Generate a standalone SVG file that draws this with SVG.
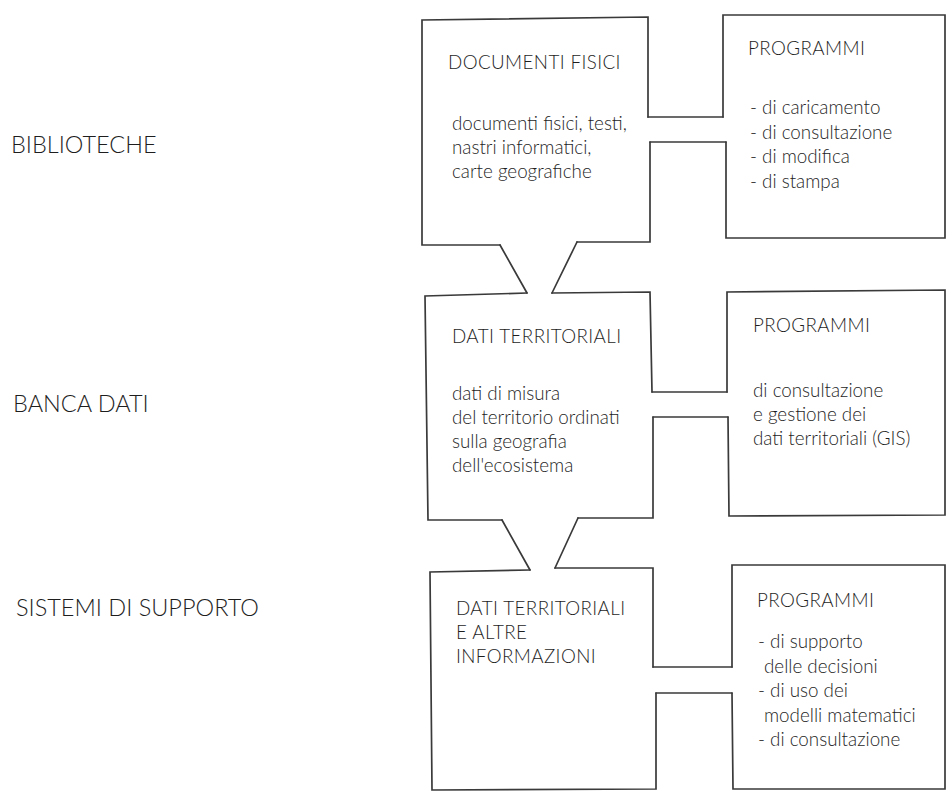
<svg xmlns="http://www.w3.org/2000/svg" width="947" height="792" viewBox="0 0 947 792">
<style>
  .bg { fill: #ffffff; }
  .ln { fill: none; stroke: #3a3a3a; stroke-width: 1.7; stroke-linecap: round; stroke-linejoin: miter; }
  .side { font-family: Lato, "Noto Sans", "Liberation Sans", sans-serif; font-size: 23.5px; font-weight: 300; fill: #1e1e1e; }
  .txt { font-family: Lato, "Noto Sans", "Liberation Sans", sans-serif; font-size: 18.8px; font-weight: 300; fill: #1e1e1e; }
  .cap { letter-spacing: 0.4px; }
</style>
<rect class="bg" x="0" y="0" width="947" height="792"/>

<g id="labels">
  <text class="side" x="11" y="153">BIBLIOTECHE</text>
  <text class="side" x="13" y="412">BANCA DATI</text>
  <text class="side" x="16" y="616">SISTEMI DI SUPPORTO</text>
</g>

<g id="connectors">
  <path class="ln" d="M648,117 L723,117"/>
  <path class="ln" d="M650,142 L726,142"/>
  <path class="ln" d="M652,392 L727,392"/>
  <path class="ln" d="M653,417 L728,417"/>
  <path class="ln" d="M653,667 L732,667"/>
  <path class="ln" d="M656,693 L732,693"/>
  <path class="ln" d="M500,245 L527,293"/>
  <path class="ln" d="M577,242 L552,293"/>
  <path class="ln" d="M502,520 L530,570"/>
  <path class="ln" d="M578,518 L555,568"/>
</g>

<g id="documenti-fisici">
  <path class="ln" d="M500,245 L422,245 L422,20 L648,17 L648,117"/>
  <path class="ln" d="M650,142 L650,242 L577,242"/>
  <text class="txt cap" x="448" y="69">DOCUMENTI FISICI</text>
  <text class="txt" x="452" y="130">documenti fisici, testi,</text>
  <text class="txt" x="452" y="154">nastri informatici,</text>
  <text class="txt" x="452" y="178">carte geografiche</text>
</g>

<g id="programmi-1">
  <path class="ln" d="M723,117 L723,15 L945,15 L945,238 L726,238 L726,142"/>
  <text class="txt cap" x="748" y="55">PROGRAMMI</text>
  <text class="txt" x="750" y="114">- di caricamento</text>
  <text class="txt" x="750" y="138.5">- di consultazione</text>
  <text class="txt" x="750" y="163">- di modifica</text>
  <text class="txt" x="750" y="187.5">- di stampa</text>
</g>

<g id="dati-territoriali">
  <path class="ln" d="M527,293 L425,296 L428,520 L502,520"/>
  <path class="ln" d="M552,293 L650,292 L652,392"/>
  <path class="ln" d="M653,417 L653,518 L578,518"/>
  <text class="txt cap" x="452" y="343">DATI TERRITORIALI</text>
  <text class="txt" x="452" y="400">dati di misura</text>
  <text class="txt" x="452" y="424">del territorio ordinati</text>
  <text class="txt" x="452" y="448">sulla geografia</text>
  <text class="txt" x="452" y="472">dell'ecosistema</text>
</g>

<g id="programmi-2">
  <path class="ln" d="M727,392 L727,292 L945,290 L945,515 L729,516 L728,417"/>
  <text class="txt cap" x="753" y="332">PROGRAMMI</text>
  <text class="txt" x="753" y="397">di consultazione</text>
  <text class="txt" x="753" y="421">e gestione dei</text>
  <text class="txt" x="753" y="445">dati territoriali (GIS)</text>
</g>

<g id="dati-altre-informazioni">
  <path class="ln" d="M530,570 L430,572 L432,790 L656,789 L656,693"/>
  <path class="ln" d="M555,568 L653,568 L653,667"/>
  <text class="txt cap" x="456" y="615">DATI TERRITORIALI</text>
  <text class="txt cap" x="456" y="639">E ALTRE</text>
  <text class="txt cap" x="456" y="663">INFORMAZIONI</text>
</g>

<g id="programmi-3">
  <path class="ln" d="M732,667 L732,565 L945,565 L945,789 L733,789 L732,693"/>
  <text class="txt cap" x="757" y="607">PROGRAMMI</text>
  <text class="txt" x="758" y="648">- di supporto</text>
  <text class="txt" x="764" y="672.5">delle decisioni</text>
  <text class="txt" x="758" y="697">- di uso dei</text>
  <text class="txt" x="764" y="721.5">modelli matematici</text>
  <text class="txt" x="758" y="746">- di consultazione</text>
</g>
</svg>
